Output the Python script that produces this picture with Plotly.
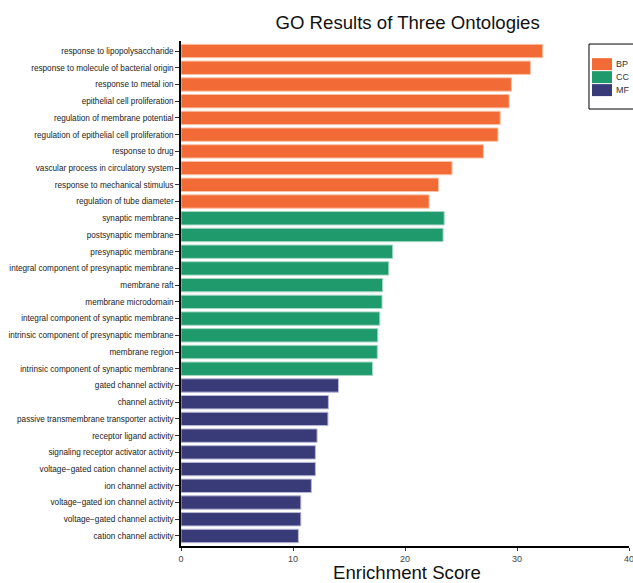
import plotly.graph_objects as go

bp_terms = ["response to lipopolysaccharide", "response to molecule of bacterial origin",
            "response to metal ion", "epithelial cell proliferation",
            "regulation of membrane potential", "regulation of epithelial cell proliferation",
            "response to drug", "vascular process in circulatory system",
            "response to mechanical stimulus", "regulation of tube diameter"]
bp_scores = [32.3, 31.2, 29.5, 29.3, 28.5, 28.3, 27.0, 24.2, 23.0, 22.15]

cc_terms = ["synaptic membrane", "postsynaptic membrane", "presynaptic membrane",
            "integral component of presynaptic membrane", "membrane raft",
            "membrane microdomain", "integral component of synaptic membrane",
            "intrinsic component of presynaptic membrane", "membrane region",
            "intrinsic component of synaptic membrane"]
cc_scores = [23.5, 23.4, 18.9, 18.55, 18.0, 17.95, 17.75, 17.57, 17.53, 17.1]

mf_terms = ["gated channel activity", "channel activity",
            "passive transmembrane transporter activity", "receptor ligand activity",
            "signaling receptor activator activity", "voltage\u2212gated cation channel activity",
            "ion channel activity", "voltage\u2212gated ion channel activity",
            "voltage\u2212gated channel activity", "cation channel activity"]
mf_scores = [14.06, 13.16, 13.12, 12.15, 12.0, 12.0, 11.64, 10.7, 10.7, 10.48]

groups = ["BP", "CC", "MF"]
colors = {"BP": "#F26B36", "CC": "#1F9A6C", "MF": "#393A78"}
outline = {"BP": "#F9C3A8", "CC": "#A6D8C2", "MF": "#B7B7D6"}
data = {"BP": (bp_terms, bp_scores), "CC": (cc_terms, cc_scores), "MF": (mf_terms, mf_scores)}

all_terms = bp_terms + cc_terms + mf_terms

fig = go.Figure()
for g in groups:
    terms, scores = data[g]
    fig.add_trace(go.Bar(
        x=scores, y=terms, orientation="h", name=g,
        marker=dict(color=colors[g], line=dict(color=outline[g], width=1)),
        width=0.8, showlegend=False,
    ))

label_font = "Liberation Sans, Arial, sans-serif"

# custom legend (box, colour keys and labels) in paper coordinates
shapes = [dict(type="rect", xref="paper", yref="paper", x0=0.9107, x1=1.03,
               y0=0.8653, y1=0.994, line=dict(color="black", width=1),
               fillcolor="white", layer="above")]
annotations = []
key_top = 0.966
key_h = 0.0257
for i, g in enumerate(groups):
    y1 = key_top - i * key_h
    y0 = y1 - key_h + 0.002
    shapes.append(dict(type="rect", xref="paper", yref="paper", x0=0.9174, x1=0.962,
                       y0=y0, y1=y1, line=dict(width=0), fillcolor=colors[g], layer="above"))
    annotations.append(dict(text=g, xref="paper", yref="paper", x=0.966, y=(y0 + y1) / 2,
                            xanchor="left", yanchor="middle", showarrow=False,
                            font=dict(family=label_font, size=9, color="#333333")))

annotations.append(dict(text="Enrichment Score", xref="paper", yref="paper",
                        x=0.505, y=-0.078, xanchor="center", yanchor="bottom",
                        showarrow=False,
                        font=dict(family=label_font, size=18.6, color="#111111")))

fig.update_layout(
    width=633, height=583,
    margin=dict(l=181, r=4, t=41, b=37, autoexpand=False),
    paper_bgcolor="white", plot_bgcolor="white",
    font=dict(family=label_font, color="#333333"),
    title=dict(text="GO Results of Three Ontologies", x=0.644, xanchor="center",
               y=0.962, yanchor="middle",
               font=dict(family=label_font, size=18.6, color="#111111")),
    showlegend=False,
    shapes=shapes,
    annotations=annotations,
)
fig.update_xaxes(range=[0, 40], tickvals=[0, 10, 20, 30, 40], showgrid=False,
                 zeroline=False, showline=True, linecolor="black", linewidth=1.5,
                 ticks="outside", ticklen=3, tickcolor="#333333",
                 tickfont=dict(size=9, color="#444444"), ticklabeloverflow="allow",
                 automargin=False)
fig.update_yaxes(categoryorder="array", categoryarray=all_terms[::-1],
                 range=[-0.6, len(all_terms) - 0.4],
                 showgrid=False, zeroline=False, showline=True, linecolor="black", linewidth=1.5,
                 ticks="outside", ticklen=4, tickcolor="#333333",
                 tickfont=dict(size=8.2, color="#222222"), automargin=False)

fig.write_html("out.html")
